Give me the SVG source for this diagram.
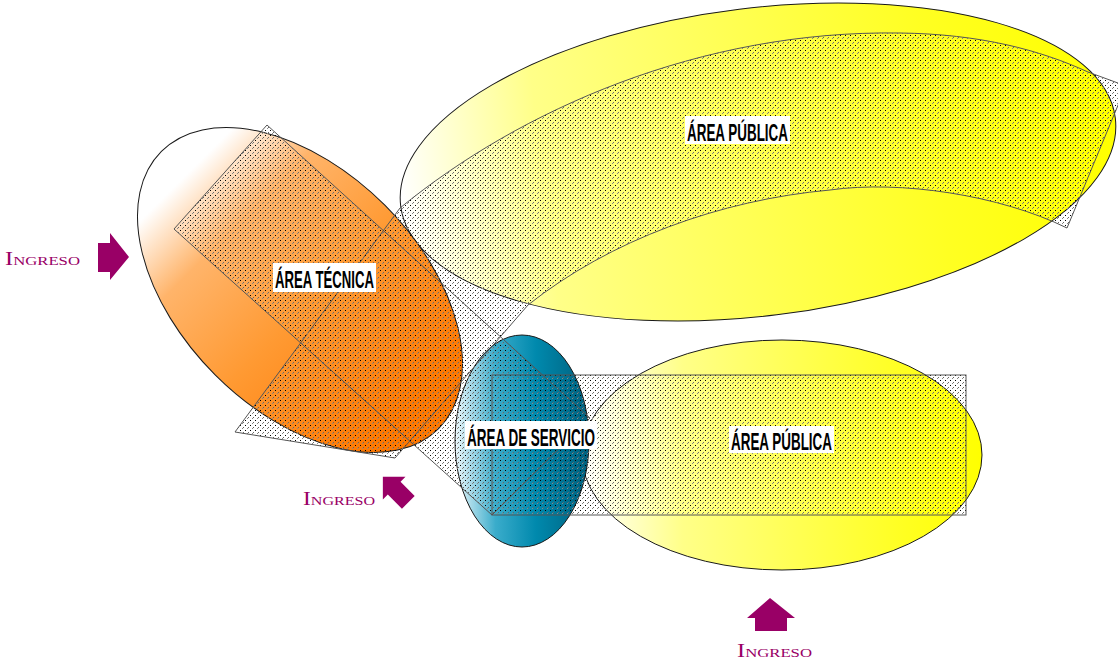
<svg xmlns="http://www.w3.org/2000/svg" width="1118" height="666" viewBox="0 0 1118 666">
  <style>
    .zone { fill: url(#dots); stroke: #555; stroke-width: 1; }
    .ell { stroke: #1a1a1a; stroke-width: 1; }
    .lblbox { fill: #ffffff; }
    .lbl { font-family: "Liberation Sans", Arial, sans-serif; font-weight: bold; font-size: 24px; fill: #000; }
    .ing { font-family: "Liberation Serif", "Times New Roman", serif; font-variant: small-caps; font-size: 19px; fill: #990066; }
    .arrow { fill: #990066; }
  </style>
  <defs>
    <pattern id="dots" width="5" height="5" patternUnits="userSpaceOnUse">
      <rect x="0" y="0" width="1" height="1" fill="#000"/>
      <rect x="3" y="2" width="1" height="1" fill="#666"/>
      <rect x="2" y="3" width="1" height="1" fill="#888"/>
    </pattern>
    <linearGradient id="gOrange" gradientUnits="userSpaceOnUse" x1="138" y1="0" x2="462" y2="0">
      <stop offset="0" stop-color="#ffffff"/>
      <stop offset="0.22" stop-color="#ffb46a"/>
      <stop offset="0.55" stop-color="#ff9a33"/>
      <stop offset="1" stop-color="#ff7800"/>
    </linearGradient>
    <linearGradient id="gYellowTop" gradientUnits="userSpaceOnUse" x1="400" y1="0" x2="1115" y2="0">
      <stop offset="0" stop-color="#ffffff"/>
      <stop offset="0.2" stop-color="#ffff88"/>
      <stop offset="0.75" stop-color="#ffff22"/>
      <stop offset="1" stop-color="#ffff00"/>
    </linearGradient>
    <linearGradient id="gYellowBot" gradientUnits="userSpaceOnUse" x1="583" y1="0" x2="982" y2="0">
      <stop offset="0" stop-color="#ffffff"/>
      <stop offset="0.25" stop-color="#ffff88"/>
      <stop offset="0.8" stop-color="#ffff22"/>
      <stop offset="1" stop-color="#ffff00"/>
    </linearGradient>
    <linearGradient id="gTeal" gradientUnits="userSpaceOnUse" x1="455" y1="0" x2="590" y2="0">
      <stop offset="0" stop-color="#eef8fb"/>
      <stop offset="0.3" stop-color="#3aaccb"/>
      <stop offset="0.6" stop-color="#0089ad"/>
      <stop offset="1" stop-color="#005f7c"/>
    </linearGradient>
  </defs>

  <rect width="1118" height="666" fill="#ffffff"/>

  <g id="ellipses">
    <g id="area-publica-top-shape">
      <ellipse class="ell" cx="758" cy="162" rx="360" ry="154" transform="rotate(-7 758 162)" fill="url(#gYellowTop)"/>
    </g>
    <g id="area-tecnica-shape">
      <ellipse class="ell" cx="300" cy="290" rx="196" ry="120" transform="rotate(45 300 290)" fill="url(#gOrange)"/>
    </g>
    <g id="area-publica-bottom-shape">
      <ellipse class="ell" cx="782" cy="455" rx="200" ry="115" fill="url(#gYellowBot)"/>
    </g>
    <g id="area-servicio-shape">
      <ellipse class="ell" cx="522" cy="441" rx="67" ry="106" fill="url(#gTeal)"/>
    </g>
  </g>

  <g id="zones">
    <path class="zone" d="M235,432 L400,208 C520,110 700,30 900,33 C980,34 1040,50 1088,72 L1126,86 L1067,228 C1000,195 900,180 830,190 C720,200 610,240 528,305 L395,458 Z"/>
    <polygon class="zone" points="174,229 267,125 590,418 492,515"/>
    <rect class="zone" x="492" y="375" width="474" height="140"/>
  </g>

  <g id="labels">
    <g id="area-tecnica">
      <rect class="lblbox" x="273" y="263" width="103" height="29"/>
      <text class="lbl" x="275" y="288" textLength="99" lengthAdjust="spacingAndGlyphs">ÁREA TÉCNICA</text>
    </g>
    <g id="area-publica-top">
      <rect class="lblbox" x="685" y="116" width="105" height="28"/>
      <text class="lbl" x="687" y="141" textLength="101" lengthAdjust="spacingAndGlyphs">ÁREA PÚBLICA</text>
    </g>
    <g id="area-servicio">
      <rect class="lblbox" x="465" y="421" width="132" height="28"/>
      <text class="lbl" x="467" y="446" textLength="128" lengthAdjust="spacingAndGlyphs">ÁREA DE SERVICIO</text>
    </g>
    <g id="area-publica-bottom">
      <rect class="lblbox" x="729" y="426" width="105" height="27"/>
      <text class="lbl" x="731" y="450" textLength="101" lengthAdjust="spacingAndGlyphs">ÁREA PÚBLICA</text>
    </g>
  </g>

  <g id="connectors">
    <g id="ingreso-left">
      <polygon class="arrow" points="98,243 110,243 110,233 129,257 110,280 110,272 98,272"/>
      <text class="ing" x="5" y="265" textLength="75" lengthAdjust="spacingAndGlyphs">Ingreso</text>
    </g>
    <g id="ingreso-middle">
      <polygon class="arrow" transform="translate(397,491) rotate(-45)" points="0,-20 16,-4 9,-4 9,16 -9,16 -9,-4 -16,-4"/>
      <text class="ing" x="303" y="505" textLength="72" lengthAdjust="spacingAndGlyphs">Ingreso</text>
    </g>
    <g id="ingreso-bottom">
      <polygon class="arrow" points="770,598 795,618 787,618 787,631 755,631 755,618 747,618"/>
      <text class="ing" x="737" y="657" textLength="75" lengthAdjust="spacingAndGlyphs">Ingreso</text>
    </g>
  </g>
</svg>
